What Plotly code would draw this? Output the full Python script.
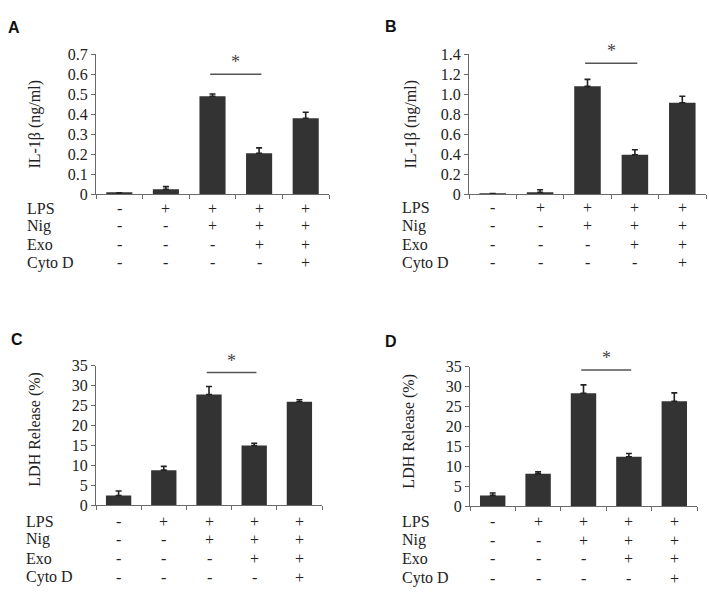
import plotly.graph_objects as go

W, H = 709, 599

# ---------------- data ----------------
conditions = [1, 2, 3, 4, 5]
row_names = ["LPS", "Nig", "Exo", "Cyto D"]
lps = ["-", "+", "+", "+", "+"]
nig = ["-", "-", "+", "+", "+"]
exo = ["-", "-", "-", "+", "+"]
cytod = ["-", "-", "-", "-", "+"]

a_vals = [0.005, 0.025, 0.49, 0.205, 0.38]
a_err = [0.002, 0.013, 0.012, 0.027, 0.03]
b_vals = [0.005, 0.02, 1.08, 0.395, 0.915]
b_err = [0.003, 0.025, 0.07, 0.05, 0.065]
c_vals = [2.45, 8.8, 27.8, 15.0, 26.0]
c_err = [1.1, 0.95, 2.0, 0.55, 0.5]
d_vals = [2.7, 8.1, 28.3, 12.4, 26.3]
d_err = [0.6, 0.5, 2.1, 0.8, 2.1]

a_ticks = [0, 0.1, 0.2, 0.3, 0.4, 0.5, 0.6, 0.7]
a_ticktext = ["0", "0.1", "0.2", "0.3", "0.4", "0.5", "0.6", "0.7"]
b_ticks = [0, 0.2, 0.4, 0.6, 0.8, 1.0, 1.2, 1.4]
b_ticktext = ["0", "0.2", "0.4", "0.6", "0.8", "1.0", "1.2", "1.4"]
cd_ticks = [0, 5, 10, 15, 20, 25, 30, 35]
cd_ticktext = ["0", "5", "10", "15", "20", "25", "30", "35"]

sig_levels = [0.6, 1.31, 33.3, 34.1]
sig_pair = [3, 4]

# ---------------- layout ----------------
def px(x):
    return x / W

def py(y):
    return 1 - y / H

panels = [
    dict(label="A", vals=a_vals, err=a_err, ticks=a_ticks, ttext=a_ticktext, ymax=0.7,
         x0=96, x1=329, yb=191.7, yt=47.7, title="IL-1β (ng/ml)", tx=35, ty=120,
         lx=14, ly=20, rx=25, rows=[206, 224, 243, 262]),
    dict(label="B", vals=b_vals, err=b_err, ticks=b_ticks, ttext=b_ticktext, ymax=1.4,
         x0=469, x1=706, yb=191.7, yt=47.7, title="IL-1β (ng/ml)", tx=411, ty=120,
         lx=391, ly=19, rx=400, rows=[205, 224, 243, 262]),
    dict(label="C", vals=c_vals, err=c_err, ticks=cd_ticks, ttext=cd_ticktext, ymax=35,
         x0=96, x1=322, yb=511.7, yt=368.3, title="LDH Release (%)", tx=35, ty=434,
         lx=17, ly=341, rx=24, rows=[528, 547, 567, 586]),
    dict(label="D", vals=d_vals, err=d_err, ticks=cd_ticks, ttext=cd_ticktext, ymax=35,
         x0=470, x1=697, yb=512.7, yt=369, title="LDH Release (%)", tx=409, ty=436,
         lx=391, ly=343, rx=400, rows=[528, 548, 567, 587]),
]

serif = "Liberation Serif, Times New Roman, serif"
sans = "Liberation Sans, Arial, sans-serif"
axcol = "#6a6a6a"
barcol = "#333333"
txtcol = "#222222"

fig = go.Figure()
layout = dict(width=W, height=H, margin=dict(l=0, r=0, t=0, b=0),
              paper_bgcolor="white", plot_bgcolor="white", showlegend=False)
annotations = []
shapes = []
table = [lps, nig, exo, cytod]

for i, p in enumerate(panels):
    n = "" if i == 0 else str(i + 1)
    xa, ya = "x" + n, "y" + n
    fig.add_trace(go.Bar(
        x=conditions, y=p["vals"], xaxis=xa, yaxis=ya, width=0.56,
        marker=dict(color=barcol, line=dict(width=0)),
        error_y=dict(type="data", array=p["err"], arrayminus=[0] * 5, symmetric=False,
                     color="#222222", thickness=1.6, width=3),
    ))
    layout["xaxis" + n] = dict(
        domain=[px(p["x0"]), px(p["x1"])], range=[0.5, 5.5], anchor=ya,
        tickvals=[0.5, 1.5, 2.5, 3.5, 4.5, 5.5], showticklabels=False,
        ticks="outside", ticklen=4, tickcolor=axcol, showline=True, linecolor=axcol,
        linewidth=1, showgrid=False, zeroline=False, fixedrange=True)
    layout["yaxis" + n] = dict(
        domain=[py(p["yb"]), py(p["yt"])], range=[0, p["ymax"]], anchor=xa,
        tickvals=p["ticks"], ticktext=p["ttext"], ticks="outside", ticklen=4,
        tickcolor=axcol, showline=True, linecolor=axcol, linewidth=1, showgrid=False,
        zeroline=False, fixedrange=True,
        tickfont=dict(family=serif, size=16, color=txtcol))
    annotations.append(dict(text=p["title"], xref="paper", yref="paper", x=px(p["tx"]),
                            y=py(p["ty"]), xanchor="center", yanchor="middle",
                            textangle=-90, showarrow=False,
                            font=dict(family=serif, size=16, color=txtcol)))
    annotations.append(dict(text="<b>%s</b>" % p["label"], xref="paper", yref="paper",
                            x=px(p["lx"]), y=py(p["ly"]), xanchor="center",
                            yanchor="middle", showarrow=False,
                            font=dict(family=sans, size=16, color="#111111")))
    s = sig_levels[i]
    shapes.append(dict(type="line", xref=xa, yref=ya, x0=sig_pair[0] - 0.05,
                       x1=sig_pair[1] + 0.05, y0=s, y1=s,
                       line=dict(color="#555555", width=1.5)))
    annotations.append(dict(text="*", xref=xa, yref=ya, x=sum(sig_pair) / 2, y=s,
                            yshift=12, xanchor="center", yanchor="middle",
                            showarrow=False,
                            font=dict(family=serif, size=18, color="#444444")))
    for r, (name, vals) in enumerate(zip(row_names, table)):
        yy = py(p["rows"][r])
        annotations.append(dict(text=name, xref="paper", yref="paper", x=px(p["rx"]),
                                y=yy, xanchor="left", yanchor="middle", showarrow=False,
                                font=dict(family=serif, size=16, color=txtcol)))
        for c, v in zip(conditions, vals):
            annotations.append(dict(text=v, xref=xa, yref="paper", x=c, y=yy,
                                    xanchor="center", yanchor="middle",
                                    showarrow=False,
                                    font=dict(family=serif, size=16, color=txtcol)))

layout["annotations"] = annotations
layout["shapes"] = shapes
fig.update_layout(**layout)
fig.write_html(
    "out.html",
    config={"displayModeBar": False},
    post_script="document.body.style.margin='0px';document.body.style.overflow='hidden';",
)
